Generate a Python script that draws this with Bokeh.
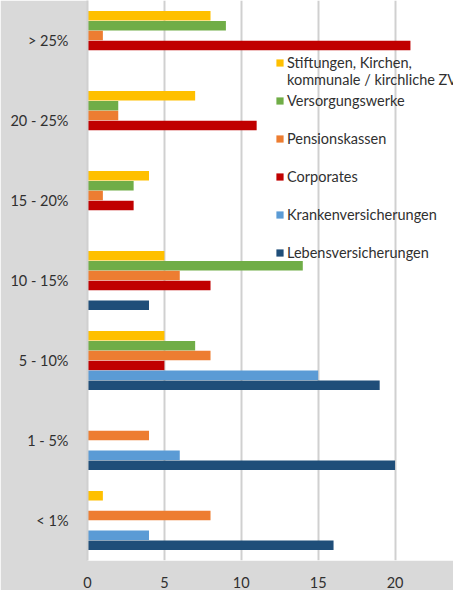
from bokeh.plotting import figure
from bokeh.models import ColumnDataSource, FixedTicker, Legend, LegendItem, Range1d
from bokeh.transform import dodge
from bokeh.embed import file_html
from bokeh.resources import INLINE

categories = ["< 1%", "1 - 5%", "5 - 10%", "10 - 15%", "15 - 20%", "20 - 25%", "> 25%"]
stiftungen = [1, 0, 5, 5, 4, 7, 8]
versorgungswerke = [0, 0, 7, 14, 3, 2, 9]
pensionskassen = [8, 4, 8, 6, 1, 2, 1]
corporates = [0, 0, 5, 8, 3, 11, 21]
kranken = [4, 6, 15, 0, 0, 0, 0]
leben = [16, 20, 19, 4, 0, 0, 0]
x_ticks = [0, 5, 10, 15, 20]

series_names = ["Stiftungen, Kirchen,\nkommunale / kirchliche ZVK", "Versorgungswerke",
                "Pensionskassen", "Corporates", "Krankenversicherungen", "Lebensversicherungen"]
series_vals = [stiftungen, versorgungswerke, pensionskassen, corporates, kranken, leben]
colors = ["#FFC000", "#70AD47", "#ED7D31", "#C00000", "#5B9BD5", "#1F4E79"]
keys = ["s0", "s1", "s2", "s3", "s4", "s5"]

data = {"cat": categories}
for k, v in zip(keys, series_vals):
    data[k] = v
source = ColumnDataSource(data)

FONT = "Lato"
TEXT = "#303030"
p = figure(y_range=categories, x_range=Range1d(0, 23.8), width=453, height=590,
           output_backend="svg", toolbar_location=None,
           min_border_left=87, min_border_top=0, min_border_right=0, min_border_bottom=0)
p.border_fill_color = "#d9d9d9"
p.background_fill_color = "white"
p.outline_line_color = None
p.y_range.range_padding = 0

pitch = 0.1235
offsets = [2.5 * pitch, 1.5 * pitch, 0.5 * pitch, -0.5 * pitch, -1.5 * pitch, -2.5 * pitch]
renderers = []
for k, c, off in zip(keys, colors, offsets):
    r = p.hbar(y=dodge("cat", off, range=p.y_range), right=k, left=0, height=0.12,
               source=source, fill_color=c, line_color=None)
    renderers.append(r)

common = dict(padding=0, margin=0, glyph_width=9, glyph_height=9, label_standoff=3,
              label_text_font=FONT, label_text_font_size="14.5px", label_text_color=TEXT,
              background_fill_alpha=0, border_line_alpha=0)

# first entry: two-line label, square aligned with the first line
legend_a = Legend(items=[LegendItem(label=" \n" + series_names[0], renderers=[renderers[0]])],
                  location=(188, 472), spacing=0, label_height=9, **common)
legend_b = Legend(items=[LegendItem(label=n, renderers=[r])
                         for n, r in zip(series_names[1:], renderers[1:])],
                  location=(188, 292), spacing=6, label_height=32, **common)
p.add_layout(legend_a, "center")
p.add_layout(legend_b, "center")

p.xgrid.grid_line_color = "#d0d0d0"
p.xgrid.grid_line_width = 2
p.ygrid.grid_line_color = None
p.xaxis.ticker = FixedTicker(ticks=x_ticks)
p.xaxis.axis_line_color = None
p.xaxis.major_tick_line_color = None
p.xaxis.minor_tick_line_color = None
p.xaxis.major_label_standoff = 10
p.yaxis.axis_line_color = "#d0d0d0"
p.yaxis.axis_line_width = 2
p.yaxis.major_tick_line_color = None
p.yaxis.minor_tick_line_color = None
p.yaxis.major_label_standoff = 13
for ax in (p.xaxis, p.yaxis):
    ax.major_label_text_font = FONT
    ax.major_label_text_font_size = "14.5px"
    ax.major_label_text_color = TEXT

open("out.html", "w").write(file_html(p, INLINE))
